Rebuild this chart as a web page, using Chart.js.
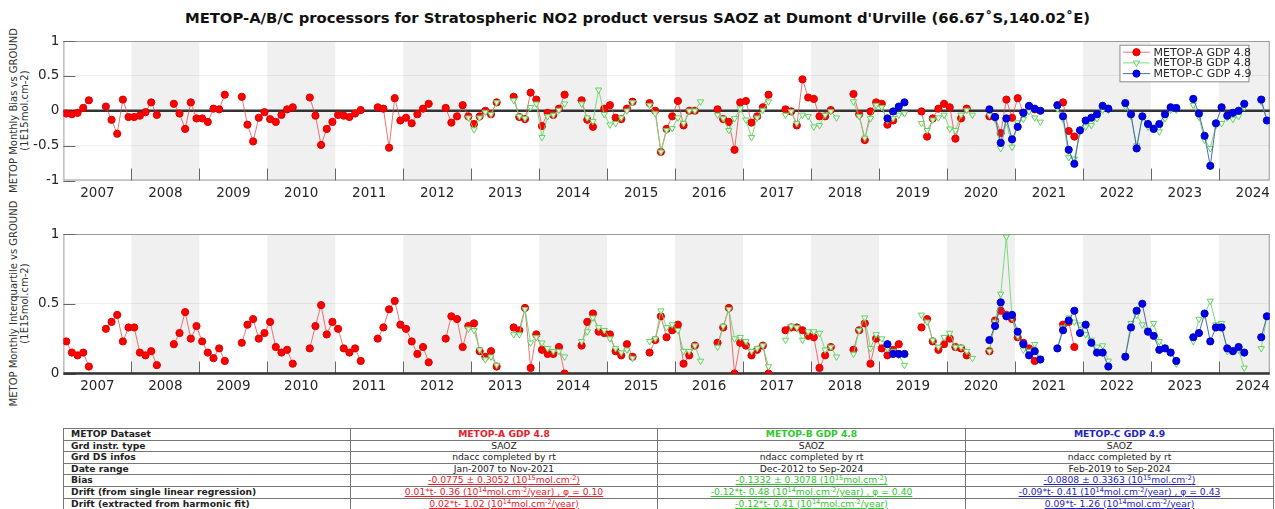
<!DOCTYPE html>
<html>
<head>
<meta charset="utf-8">
<script src="https://cdn.jsdelivr.net/npm/chart.js@4/dist/chart.umd.min.js"></script>
<style>
  body { margin: 0; background: #fff; font-family: 'DejaVu Sans', sans-serif; }
  #page { position: relative; width: 1275px; height: 509px; overflow: hidden; background: #fff; }
  #title { position: absolute; left: 0; top: 9px; width: 1275px; text-align: center; font-weight: bold;
           font-size: 14.8px; line-height: 18px; color: #111; white-space: nowrap; }
  canvas { position: absolute; left: 0; }
  .ylab { position: absolute; width: 260px; height: 21px; font-size: 10px; line-height: 10.5px;
          text-align: center; color: #333; transform: rotate(-90deg); white-space: nowrap; }
  table { position: absolute; left: 63px; top: 428px; width: 1210px; border-collapse: collapse;
          table-layout: fixed; font-size: 9.2px; color: #222; }
  td { border: 1px solid #777; height: 10.6px; line-height: 10.6px; padding: 0; text-align: center;
       white-space: nowrap; overflow: hidden; }
  td.h { text-align: left; font-weight: bold; padding-left: 7px; }
  .b { font-weight: bold; }
  .u { text-decoration: underline; }
  .ca { color: #e8202a; } .cb { color: #2ec82e; } .cc { color: #2323c0; }
  sup { font-size: 6.5px; vertical-align: 3px; line-height: 0; }
</style>
</head>
<body>
<div id="page">
  <div id="title">METOP-A/B/C processors for Stratospheric NO2 product versus SAOZ at Dumont d'Urville (66.67˚S,140.02˚E)</div>
  <div class="ylab" style="left:-110.75px; top:100px;">METOP Monthly Bias vs GROUND<br>(1E15mol.cm-2)</div>
  <div class="ylab" style="left:-110.75px; top:293px;">METOP Monthly Interquartile vs GROUND<br>(1E15mol.cm-2)</div>
  <canvas id="biasChart" width="1275" height="205" style="top:0px"></canvas>
  <canvas id="iqrChart" width="1275" height="205" style="top:205px"></canvas>
  <table>
    <colgroup><col style="width:287px"><col style="width:307px"><col style="width:308px"><col style="width:308px"></colgroup>
    <tr><td class="h">METOP Dataset</td><td class="b ca">METOP-A GDP 4.8</td><td class="b cb">METOP-B GDP 4.8</td><td class="b cc">METOP-C GDP 4.9</td></tr>
    <tr><td class="h">Grd instr. type</td><td>SAOZ</td><td>SAOZ</td><td>SAOZ</td></tr>
    <tr><td class="h">Grd DS infos</td><td>ndacc completed by rt</td><td>ndacc completed by rt</td><td>ndacc completed by rt</td></tr>
    <tr><td class="h">Date range</td><td>Jan-2007 to Nov-2021</td><td>Dec-2012 to Sep-2024</td><td>Feb-2019 to Sep-2024</td></tr>
    <tr><td class="h">Bias</td>
      <td class="ca u">-0.0775 ± 0.3052 (10<sup>15</sup>mol.cm<sup>-2</sup>)</td>
      <td class="cb u">-0.1332 ± 0.3078 (10<sup>15</sup>mol.cm<sup>-2</sup>)</td>
      <td class="cc u">-0.0808 ± 0.3363 (10<sup>15</sup>mol.cm<sup>-2</sup>)</td></tr>
    <tr><td class="h">Drift (from single linear regression)</td>
      <td class="ca u">0.01*t- 0.36 (10<sup>14</sup>mol.cm<sup>-2</sup>/year) , φ = 0.10</td>
      <td class="cb u">-0.12*t- 0.48 (10<sup>14</sup>mol.cm<sup>-2</sup>/year) , φ = 0.40</td>
      <td class="cc u">-0.09*t- 0.41 (10<sup>14</sup>mol.cm<sup>-2</sup>/year) , φ = 0.43</td></tr>
    <tr><td class="h">Drift (extracted from harmonic fit)</td>
      <td class="ca u">0.02*t- 1.02 (10<sup>14</sup>mol.cm<sup>-2</sup>/year)</td>
      <td class="cb u">-0.12*t- 0.41 (10<sup>14</sup>mol.cm<sup>-2</sup>/year)</td>
      <td class="cc u">0.09*t- 1.26 (10<sup>14</sup>mol.cm<sup>-2</sup>/year)</td></tr>
  </table>
</div>
<script>
(function(){
    'use strict';
    const n = null;

    // tick labels and shaded years
    const yearLabels = ['2007','2008','2009','2010','2011','2012','2013','2014','2015','2016','2017','2018','2019','2020','2021','2022','2023','2024'];
    const shadedYears = [2008, 2010, 2012, 2014, 2016, 2018, 2020, 2022, 2024];
    const biasTicks = [-1, -0.5, 0, 0.5, 1];
    const iqrTicks = [0, 0.5, 1];
    const seriesNames = ['METOP-A GDP 4.8', 'METOP-B GDP 4.8', 'METOP-C GDP 4.9'];

    // monthly bias, one row per year (Jan..Dec)
    const startA = 2007, startB = 2012, startC = 2019;
    const biasA = [
        [-0.04,-0.05,-0.03,0.04,0.15,n,n,0.06,-0.13,-0.33,0.16,-0.09],
        [-0.09,-0.07,-0.02,0.12,-0.06,n,n,0.10,-0.04,-0.26,0.12,-0.11],
        [-0.11,-0.16,0.03,0.02,0.23,n,n,0.20,-0.20,-0.44,-0.10,-0.02],
        [-0.12,-0.16,-0.06,0.02,0.05,n,n,0.19,-0.07,-0.49,-0.26,-0.16],
        [-0.06,-0.07,-0.09,-0.04,0.01,n,n,0.05,0.03,-0.53,0.18,-0.14],
        [-0.10,-0.18,-0.05,0.03,0.10,n,n,0.04,-0.17,-0.08,0.08,-0.08],
        [-0.19,-0.08,0.00,-0.05,0.12,n,n,0.20,-0.09,-0.12,0.26,0.16],
        [-0.22,-0.03,-0.06,0.03,0.23,n,n,0.15,-0.13,-0.23,n,0.03],
        [0.08,-0.10,-0.12,0.03,0.13,n,n,0.11,0.00,-0.59,-0.26,-0.08],
        [0.14,-0.21,0.00,0.00,n,n,n,0.02,-0.12,-0.16,-0.56,0.12],
        [0.14,-0.17,-0.08,0.05,0.23,n,n,0.02,-0.01,-0.21,0.45,0.19],
        [0.17,-0.08,-0.08,0.01,n,n,n,0.24,-0.05,-0.42,-0.01,0.12],
        [0.10,-0.20,-0.14,n,n,n,n,-0.01,-0.37,-0.11,0.03,0.10],
        [0.05,-0.40,-0.11,0.03,n,n,n,-0.08,-0.09,-0.32,0.16,-0.10],
        [0.18,-0.03,0.06,0.02,n,n,n,n,0.12,-0.29,-0.37,n]
    ];
    const biasB = [
        [n,n,n,n,n,n,n,n,n,n,n,-0.10],
        [-0.27,-0.10,-0.02,-0.05,0.12,n,n,0.15,-0.08,-0.11,0.05,0.10],
        [-0.38,-0.08,-0.06,0.01,0.10,n,n,0.10,-0.10,-0.15,0.30,-0.05],
        [-0.20,-0.18,-0.10,0.00,0.12,n,n,0.08,-0.04,-0.59,-0.28,-0.25],
        [-0.10,-0.18,0.00,0.00,0.13,n,n,-0.06,-0.11,-0.28,-0.11,0.03],
        [-0.13,-0.38,-0.10,0.01,0.13,n,n,-0.06,-0.01,-0.18,-0.06,-0.08],
        [-0.23,-0.21,-0.06,-0.01,-0.10,n,n,0.13,-0.08,-0.39,-0.11,0.08],
        [0.05,-0.14,-0.11,-0.06,-0.04,n,n,-0.18,-0.28,-0.13,-0.10,-0.06],
        [-0.26,-0.28,-0.06,0.01,-0.06,n,n,-0.06,-0.12,-0.54,-0.16,-0.52],
        [-0.17,-0.12,-0.01,-0.10,-0.16,n,n,0.03,-0.12,-0.67,-0.69,-0.30],
        [-0.23,-0.21,-0.11,0.01,0.01,n,n,0.06,-0.08,-0.50,-0.10,-0.23],
        [-0.23,-0.30,-0.11,0.01,0.01,n,n,0.08,-0.09,-0.42,-0.54,-0.21],
        [-0.18,-0.10,-0.12,-0.08,0.05,n,n,0.13,-0.13]
    ];
    const biasC = [
        [n,-0.11,-0.01,0.06,0.12,n,n,n,n,n,n,n],
        [n,n,n,n,n,n,n,0.02,-0.09,-0.46,-0.11,-0.41],
        [-0.23,-0.03,0.07,0.03,0.00,n,n,0.08,-0.08,-0.56,-0.76,-0.28],
        [-0.14,-0.10,-0.05,0.07,0.03,n,n,0.11,-0.05,-0.54,-0.08,-0.19],
        [-0.26,-0.19,-0.05,0.05,0.04,n,n,0.17,-0.04,-0.36,-0.79,-0.18],
        [0.05,-0.07,-0.03,0.00,0.10,n,n,0.16,-0.14]
    ];

    // monthly interquartile range
    const iqrA = [
        [0.23,0.15,0.13,0.15,0.05,n,n,0.32,0.37,0.42,0.23,0.33],
        [0.33,0.15,0.13,0.16,0.06,n,n,0.21,0.29,0.44,0.25,0.34],
        [0.23,0.15,0.11,0.18,0.09,n,n,0.22,0.35,0.39,0.25,0.29],
        [0.37,0.19,0.15,0.17,0.07,n,n,0.18,0.34,0.49,0.28,0.37],
        [0.32,0.18,0.15,0.18,0.09,n,n,0.25,0.33,0.46,0.52,0.35],
        [0.32,0.23,0.14,0.19,0.08,n,n,0.25,0.41,0.39,0.19,0.34],
        [0.36,0.16,0.12,0.16,0.05,n,n,0.33,0.31,0.47,0.04,0.28],
        [0.17,0.14,0.14,0.19,0.00,n,n,0.20,0.37,0.43,0.30,0.29],
        [0.28,0.16,0.13,0.21,0.12,n,n,0.15,0.24,0.41,0.26,0.31],
        [0.35,0.07,0.13,0.20,n,n,n,0.22,0.33,0.47,0.00,0.22],
        [0.20,0.13,0.17,0.20,0.00,n,n,0.31,0.33,0.33,0.31,0.27],
        [0.26,0.04,0.13,0.19,n,n,n,0.17,0.31,0.36,0.07,0.25],
        [0.18,0.13,0.17,0.21,n,n,n,0.33,0.39,0.23,0.17,0.21],
        [0.25,0.19,0.18,0.13,n,n,n,0.16,0.38,0.45,0.42,0.39],
        [0.26,0.22,0.18,0.09,n,n,n,n,0.35,0.37,0.19,n]
    ];
    const iqrB = [
        [n,n,n,n,n,n,n,n,n,n,n,0.32],
        [0.31,0.17,0.10,0.12,0.06,n,n,0.28,0.28,0.46,0.22,0.26],
        [0.22,0.18,0.16,0.16,0.12,n,n,0.23,0.30,0.40,0.33,0.31],
        [0.25,0.18,0.15,0.17,0.11,n,n,0.23,0.25,0.45,0.33,0.35],
        [0.31,0.16,0.16,0.20,0.09,n,n,0.19,0.34,0.46,0.25,0.26],
        [0.23,0.16,0.18,0.20,0.05,n,n,0.24,0.34,0.33,0.24,0.30],
        [0.30,0.29,0.17,0.19,0.12,n,n,0.14,0.31,0.40,0.18,0.28],
        [0.25,0.18,0.16,0.13,0.06,n,n,0.42,0.37,0.24,0.19,0.26],
        [0.29,0.19,0.19,0.16,0.11,n,n,0.16,0.37,0.57,0.98,0.40],
        [0.27,0.17,0.16,0.21,0.11,n,n,0.18,0.33,0.40,0.37,0.35],
        [0.28,0.24,0.19,0.20,0.09,n,n,0.13,0.36,0.42,0.35,0.31],
        [0.36,0.23,0.19,0.16,0.07,n,n,0.23,0.39,0.42,0.52,0.35],
        [0.36,0.16,0.17,0.17,0.04,n,n,0.18,0.41]
    ];
    const iqrC = [
        [n,0.21,0.14,0.14,0.14,n,n,n,n,n,n,n],
        [n,n,n,n,n,n,n,0.24,0.34,0.51,0.41,0.42],
        [0.30,0.21,0.13,0.16,0.10,n,n,0.18,0.31,0.38,0.45,0.29],
        [0.35,0.22,0.15,0.15,0.05,n,n,0.12,0.33,0.45,0.50,0.30],
        [0.27,0.17,0.18,0.15,0.09,n,n,0.26,0.29,0.43,0.23,0.33],
        [0.33,0.18,0.16,0.19,0.15,n,n,0.26,0.41]
    ];

    const FONT = 'DejaVu Sans';

    // turn year rows into {x: decimal year, y} points (month centre)
    function toPoints(rows, startYear){
        const pts = [];
        rows.forEach((row, k) => {
            row.forEach((v, m) => {
                pts.push({x: startYear + k + (m + 0.5) / 12, y: v});
            });
        });
        return pts;
    }

    const styleA = {
        borderColor: 'rgba(225,70,70,0.75)', borderWidth: 1,
        pointStyle: 'circle', pointRadius: 3.6, pointBackgroundColor: '#ff0000', pointBorderColor: '#e00000', pointBorderWidth: 1,
        order: 3
    };
    const styleB = {
        borderColor: 'rgba(110,215,110,0.9)', borderWidth: 1,
        pointStyle: 'triangle', rotation: 180, pointRadius: 3.6, pointBackgroundColor: 'rgba(255,255,255,0.85)',
        pointBorderColor: '#5fd35f', pointBorderWidth: 1,
        order: 2
    };
    const styleC = {
        borderColor: 'rgba(60,90,170,0.9)', borderWidth: 1,
        pointStyle: 'circle', pointRadius: 3.6, pointBackgroundColor: '#0000e6', pointBorderColor: '#0000c8', pointBorderWidth: 1,
        order: 1
    };

    // shaded years, box, inside ticks and zero line
    const framePlugin = {
        id: 'frame',
        beforeDraw(chart){
            const {ctx, chartArea: a, scales: {x}} = chart;
            ctx.save();
            ctx.fillStyle = '#ffffff';
            ctx.fillRect(a.left, a.top, a.width, a.height);
            ctx.fillStyle = '#f0f0f0';
            shadedYears.forEach(yr => {
                const x0 = Math.max(x.getPixelForValue(yr), a.left);
                const x1 = Math.min(x.getPixelForValue(yr + 1), a.right);
                if(x1 > x0) ctx.fillRect(x0, a.top, x1 - x0, a.height);
            });
            ctx.restore();
        },
        beforeDatasetsDraw(chart){
            const {ctx, chartArea: a, scales: {x, y}} = chart;
            ctx.save();
            // box
            ctx.strokeStyle = '#9a9a9a';
            ctx.lineWidth = 1;
            ctx.strokeRect(a.left + 0.5, a.top + 0.5, a.width - 1, a.height - 1);
            // year ticks along bottom
            ctx.strokeStyle = '#666';
            ctx.beginPath();
            yearLabels.forEach((lbl, i) => {
                if(i === 0) return;
                const px = Math.round(x.getPixelForValue(2007 + i)) + 0.5;
                ctx.moveTo(px, a.bottom);
                ctx.lineTo(px, a.bottom - 12);
            });
            // y ticks on the left
            y.ticks.forEach(t => {
                const py = Math.round(y.getPixelForValue(t.value)) + 0.5;
                ctx.moveTo(a.left, py);
                ctx.lineTo(a.left + 12, py);
            });
            ctx.stroke();
            // zero line
            const y0 = y.getPixelForValue(0);
            ctx.strokeStyle = '#333';
            ctx.lineWidth = 2.6;
            ctx.beginPath();
            ctx.moveTo(a.left, y0);
            ctx.lineTo(a.right, y0);
            ctx.stroke();
            ctx.restore();
        }
    };

    function drawMarker(ctx, ds, px, py){
        ctx.save();
        ctx.fillStyle = ds.pointBackgroundColor;
        ctx.strokeStyle = ds.pointBorderColor;
        ctx.lineWidth = ds.pointBorderWidth;
        Chart.helpers.drawPoint(ctx, {pointStyle: ds.pointStyle, rotation: ds.rotation || 0,
            radius: ds.pointRadius, borderWidth: ds.pointBorderWidth}, px, py);
        ctx.restore();
    }

    // MATLAB-like legend box in the top right corner
    const legendPlugin = {
        id: 'boxLegend',
        afterDraw(chart){
            const {ctx, chartArea: a} = chart;
            const bx = a.right - 150.3, by = a.top + 3.7, bw = 129, bh = 36.6;
            ctx.save();
            ctx.fillStyle = '#fff';
            ctx.fillRect(bx, by, bw, bh);
            ctx.strokeStyle = '#8a8a8a';
            ctx.lineWidth = 1;
            ctx.strokeRect(bx + 0.5, by + 0.5, bw, bh);
            chart.data.datasets.forEach((ds, i) => {
                const ly = by + 7.5 + i * 10.7;
                ctx.strokeStyle = ds.borderColor;
                ctx.lineWidth = 1;
                ctx.beginPath();
                ctx.moveTo(bx + 3.5, ly);
                ctx.lineTo(bx + 30.5, ly);
                ctx.stroke();
                drawMarker(ctx, ds, bx + 17, ly);
                ctx.fillStyle = '#262626';
                ctx.font = '11px "' + FONT + '"';
                ctx.textBaseline = 'middle';
                ctx.textAlign = 'left';
                ctx.fillText(seriesNames[i], bx + 34, ly + 0.5);
            });
            ctx.restore();
        }
    };

    function makeChart(canvasId, sets, ticks, yMin, yMax, padTop, xHeight, extraPlugins){
        const tickFont = {family: FONT, size: 13.5};
        return new Chart(document.getElementById(canvasId), {
            type: 'line',
            data: {
                datasets: sets.map((s, i) => Object.assign({
                    label: seriesNames[i],
                    data: s.points,
                    spanGaps: false,
                    fill: false,
                    tension: 0
                }, s.style))
            },
            options: {
                responsive: false,
                animation: false,
                devicePixelRatio: 1,
                layout: {padding: {top: padTop, right: 2, left: 0, bottom: 0}},
                plugins: {legend: {display: false}, tooltip: {enabled: false}},
                scales: {
                    x: {
                        type: 'linear', min: 2007, max: 2024.75,
                        afterBuildTicks: axis => { axis.ticks = yearLabels.map((l, i) => ({value: 2007 + i + 0.5})); },
                        afterFit: axis => { axis.height = xHeight; },
                        grid: {display: false, drawTicks: false},
                        border: {display: false},
                        ticks: {autoSkip: false, maxRotation: 0, padding: 5, font: tickFont, color: '#262626',
                                callback: (v, i) => yearLabels[i]}
                    },
                    y: {
                        min: yMin, max: yMax,
                        afterBuildTicks: axis => { axis.ticks = ticks.map(v => ({value: v})); },
                        afterFit: axis => { axis.width = 63.4; },
                        grid: {color: 'rgba(0,0,0,0.06)', drawTicks: false},
                        border: {display: false},
                        ticks: {padding: 4, font: tickFont, color: '#262626', callback: v => String(v)}
                    }
                }
            },
            plugins: [framePlugin].concat(extraPlugins)
        });
    }

    makeChart('biasChart', [
        {points: toPoints(biasA, startA), style: styleA},
        {points: toPoints(biasB, startB), style: styleB},
        {points: toPoints(biasC, startC), style: styleC}
    ], biasTicks, -1, 1, 41, 24.5, [legendPlugin]);

    makeChart('iqrChart', [
        {points: toPoints(iqrA, startA), style: styleA},
        {points: toPoints(iqrB, startB), style: styleB},
        {points: toPoints(iqrC, startC), style: styleC}
    ], iqrTicks, 0, 1, 29, 36.5, []);
})();
</script>
</body>
</html>
